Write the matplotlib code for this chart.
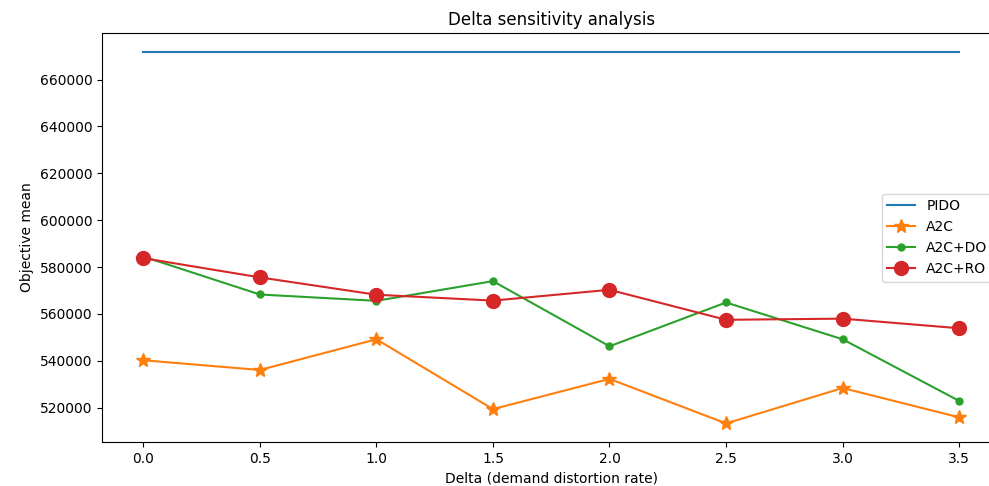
import matplotlib
matplotlib.use("Agg")
import matplotlib.pyplot as plt

delta = [0.0, 0.5, 1.0, 1.5, 2.0, 2.5, 3.0, 3.5]
pido = [671900] * 8
a2c = [540250, 536100, 549200, 519400, 532300, 513300, 528400, 515900]
a2c_do = [584500, 568300, 565600, 574000, 546200, 564900, 549200, 522900]
a2c_ro = [583800, 575600, 568200, 565700, 570300, 557500, 558000, 553900]

fig = plt.figure(figsize=(9.89, 4.86), dpi=100)
ax = fig.add_axes([0.1036, 0.0905, 0.9075, 0.8415])
ax.plot(delta, pido, label="PIDO")
ax.plot(delta, a2c, marker="*", markersize=10, label="A2C")
ax.plot(delta, a2c_do, marker="o", markersize=5, label="A2C+DO")
ax.plot(delta, a2c_ro, marker="o", markersize=10, label="A2C+RO")
ax.set_title("Delta sensitivity analysis")
ax.set_xlabel("Delta (demand distortion rate)")
ax.set_ylabel("Objective mean")
ax.legend(loc="center right")
fig.savefig("out.png", dpi=100)
